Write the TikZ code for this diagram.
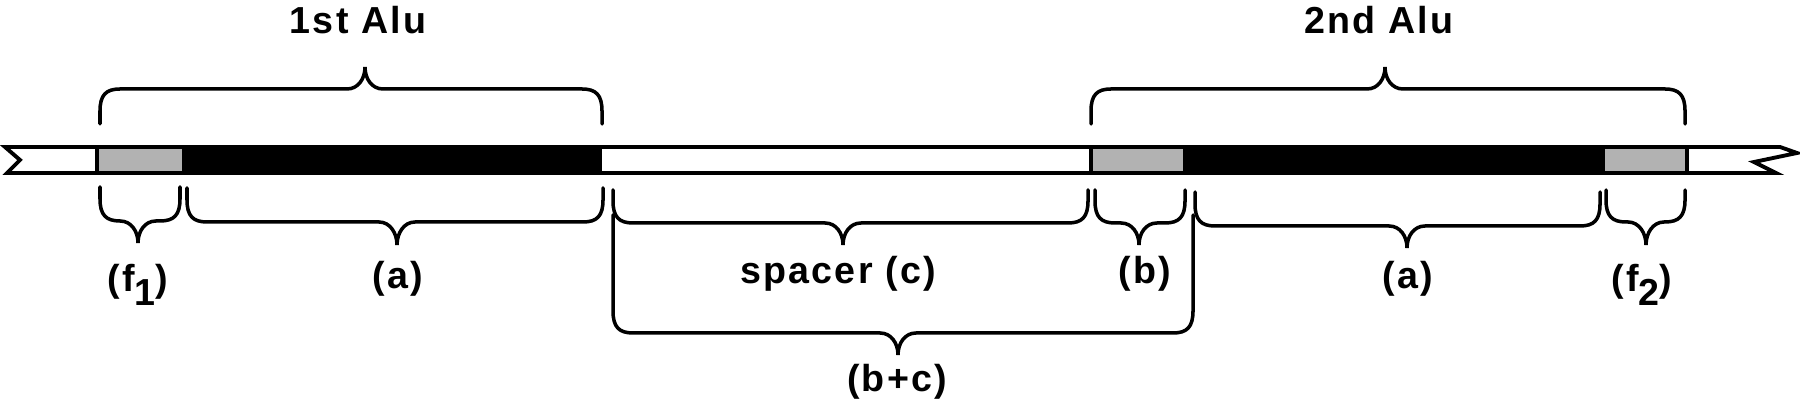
\documentclass[tikz,border=0pt]{standalone}
\usepackage{fontspec}
\newfontfamily\alufont{Liberation Sans Bold}[LetterSpace=6]
\usetikzlibrary{calc}

\tikzset{
    barline/.style={line width=1.1pt, line join=miter},
    curly/.style={line width=1pt, line cap=round},
    stipple/.style={fill=black!30},
    lbl/.style={font=\alufont\fontsize{10.7}{13}\selectfont, inner sep=0pt, anchor=base},
}

% brace from x #1 to x #2, tip at x #3; ends at y #4, flat part at y #5, tip at y #6
\newcommand{\alubrace}[6]{%
    \draw[curly] (#1,#4) -- (#1,{#5+22*sign(#4-#5)})
        .. controls (#1,{#5+6*sign(#4-#5)}) and ({#1+6},#5) .. ({#1+20},#5)
        -- ({#3-18},#5)
        .. controls ({#3-7},#5) and (#3,{#6+12*sign(#5-#6)}) .. (#3,#6)
        .. controls (#3,{#6+12*sign(#5-#6)}) and ({#3+7},#5) .. ({#3+18},#5)
        -- ({#2-20},#5)
        .. controls ({#2-6},#5) and (#2,{#5+6*sign(#4-#5)}) .. (#2,{#5+22*sign(#4-#5)})
        -- (#2,#4);
}

\begin{document}
\begin{tikzpicture}[x=0.1mm, y=-0.1mm]
    \useasboundingbox (0,0) rectangle (1800,402);

    % the strand
    \fill[stipple] (97,147) rectangle (182,173);
    \fill (182,147) rectangle (602,173);
    \fill[stipple] (1091,147) rectangle (1183,173);
    \fill (1183,147) rectangle (1605,173);
    \fill[stipple] (1605,147) rectangle (1687,173);
    \draw[barline] (5,147) -- (1780,147) -- (1797,153) -- (1754,162) -- (1776,173)
        -- (7,173) -- (20,160) -- cycle;
    \foreach \x in {97,1091,1687}
        \draw[barline] (\x,147) -- (\x,173);

    % braces above
    \alubrace{100}{602}{365}{124}{89}{67}
    \alubrace{1091}{1685}{1385}{124}{89}{67}
    \node[lbl] (alu1) at (358,34) {1st Alu};
    \node[lbl] (alu2) at (1379,34) {2nd Alu};

    % braces below
    \alubrace{100}{180}{138}{187}{221}{243}
    \alubrace{187}{603}{397}{188}{222}{245}
    \alubrace{613}{1088}{843}{190}{223}{245}
    \alubrace{1095}{1185}{1139}{190}{223}{245}
    \alubrace{1195}{1600}{1407}{192}{226}{248}
    \alubrace{1606}{1685}{1646}{190}{222}{245}
    \alubrace{613}{1193}{898}{215}{333}{355}

    \node[lbl] (f1) at (138,292) {(f\raisebox{-.7ex}{1})};
    \node[lbl] (a1) at (398,289) {(a)};
    \node[lbl] (spacer) at (838,284) {spacer (c)};
    \node[lbl] (b) at (1145,284) {(b)};
    \node[lbl] (a2) at (1408,289) {(a)};
    \node[lbl] (f2) at (1642,292) {(f\raisebox{-.7ex}{2})};
    \node[lbl] (bc) at (897,392) {(b+c)};
\end{tikzpicture}
\end{document}
